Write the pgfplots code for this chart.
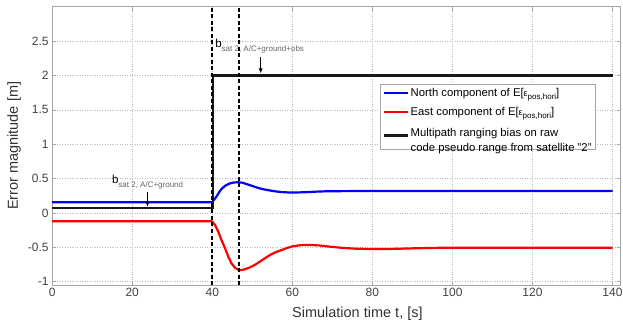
\documentclass[border=0pt]{standalone}
\usepackage{pgfplots}
\pgfplotsset{compat=1.18}
\usetikzlibrary{arrows.meta}
\usepackage{fontspec}
\setmainfont{Liberation Sans}
\pgfplotsset{
  legend image code/.code={\draw[#1] (0pt,0pt) -- (24pt,0pt);},
}
\begin{document}
\begin{tikzpicture}
\path[use as bounding box] (-52.2pt,-36pt) rectangle (570.8pt,285pt);
\begin{axis}[
  at={(0,0)}, anchor=south west,
  scale only axis, width=568.3pt, height=278.3pt,
  xmin=0, xmax=142, ymin=-1.048, ymax=3,
  xtick={0,20,40,60,80,100,120,140},
  xticklabels={0,20,40,60,80,100,120,140},
  ytick={-1,-0.5,0,0.5,1,1.5,2,2.5},
  yticklabels={-1,-0.5,0,0.5,1,1.5,2,2.5},
  tick label style={font=\fontsize{12}{12}\selectfont, text=black!75},
  grid=major,
  major grid style={gray!55, dash pattern=on 1pt off 1.5pt, line width=0.5pt},
  axis line style={gray!70, line width=0.7pt},
  tick style={gray!70, line width=0.5pt},
  tick align=inside, major tick length=4pt,
  xlabel={Simulation time t, [s]},
  xlabel style={at={(axis description cs:0.537,0)}, anchor=base, yshift=-32pt, font=\fontsize{14.5}{14.5}\selectfont, text=black!80},
  ylabel={Error magnitude [m]},
  ylabel style={at={(axis description cs:-0.067,0.5)}, anchor=center, font=\fontsize{14.5}{14.5}\selectfont, text=black!80},
  legend style={at={(0.577,0.722)}, anchor=north west, draw=gray!70, line width=0.7pt,
    font=\fontsize{11.3}{15}\selectfont, inner sep=2pt, row sep=5pt, fill=white},
  legend cell align=left,
]
\addplot[blue, line width=2.2pt, line join=round] coordinates {
(0,0.155) (39.9,0.155) (40.7,0.21) (41.4,0.27) (41.9,0.32) (42.5,0.36) (43.2,0.395)
(44.4,0.43) (45.4,0.443) (46.5,0.447) (47.5,0.44) (48.6,0.42) (49.6,0.40) (50.6,0.38)
(51.7,0.36) (52.7,0.345) (53.8,0.333) (54.8,0.323) (56,0.312) (57.3,0.304) (59,0.298)
(61,0.298) (63,0.301) (66,0.31) (69,0.316) (75,0.318) (140,0.318)};
\addlegendentry{North component of E[{\fontsize{9}{9}\selectfont ε}\raisebox{-3pt}{\fontsize{8}{8}\selectfont pos,hori}]}
\addplot[red, line width=2.2pt, line join=round] coordinates {
(0,-0.12) (39.9,-0.12) (40.7,-0.176) (41.5,-0.273) (42.3,-0.394) (43.2,-0.515) (44,-0.636)
(44.8,-0.733) (45.65,-0.796) (46.3,-0.82) (46.9,-0.83) (47.5,-0.828) (48.1,-0.82)
(49.3,-0.795) (50.6,-0.757) (51.7,-0.715) (52.7,-0.675) (53.8,-0.635) (54.8,-0.60)
(56,-0.567) (57.3,-0.54) (58.5,-0.513) (59.8,-0.49) (61,-0.477) (62.3,-0.468)
(64.3,-0.465) (66.5,-0.472) (69.3,-0.49) (72.5,-0.508) (75.9,-0.52) (80,-0.525)
(84.3,-0.524) (90,-0.515) (96.7,-0.507) (105,-0.505) (140,-0.505)};
\addlegendentry{East component of E[{\fontsize{9}{9}\selectfont ε}\raisebox{-3pt}{\fontsize{8}{8}\selectfont pos,hori}]}
\addplot[black!90, line width=2.2pt] coordinates {(0,0.07) (40.2,0.07) (40.2,2) (140,2)};
\addlegendentry{\begin{tabular}{@{}l@{}}Multipath ranging bias on raw\\code pseudo range from satellite "2"\end{tabular}}
\node[anchor=base west, inner sep=0pt] at (axis cs:14.9,0.43)
  {\fontsize{11.5}{11.5}\selectfont b\raisebox{-4.5pt}{\fontsize{8}{8}\selectfont\color{black!60}sat 2, A/C+ground}};
\draw[-{Latex[length=5pt,width=4pt]}, line width=0.8pt] (axis cs:23.8,0.31) -- (axis cs:23.8,0.09);
\node[anchor=base west, inner sep=0pt] at (axis cs:40.7,2.407)
  {\fontsize{11.5}{11.5}\selectfont b\raisebox{-4.5pt}{\fontsize{8}{8}\selectfont\color{black!60}sat 2, A/C+ground+obs}};
\draw[-{Latex[length=5pt,width=4pt]}, line width=0.8pt] (axis cs:52.1,2.27) -- (axis cs:52.1,2.03);
\addplot[black, line width=2pt, dash pattern=on 4pt off 2.5pt, forget plot] coordinates {(40,-1.048) (40,3)};
\addplot[black, line width=2pt, dash pattern=on 4pt off 2.5pt, forget plot] coordinates {(46.6,-1.048) (46.6,3)};
\node[anchor=base, yshift=-25pt, text=black!80] at (axis cs:40.3,-1.048)
  {\fontsize{13.5}{13.5}\selectfont t\raisebox{-3.5pt}{\fontsize{10}{10}\selectfont K}};
\node[anchor=base, yshift=-25pt, text=black!80] at (axis cs:48.6,-1.048)
  {\fontsize{13.5}{13.5}\selectfont t\raisebox{-3.5pt}{\fontsize{10}{10}\selectfont max}};
\end{axis}
\end{tikzpicture}
\end{document}
